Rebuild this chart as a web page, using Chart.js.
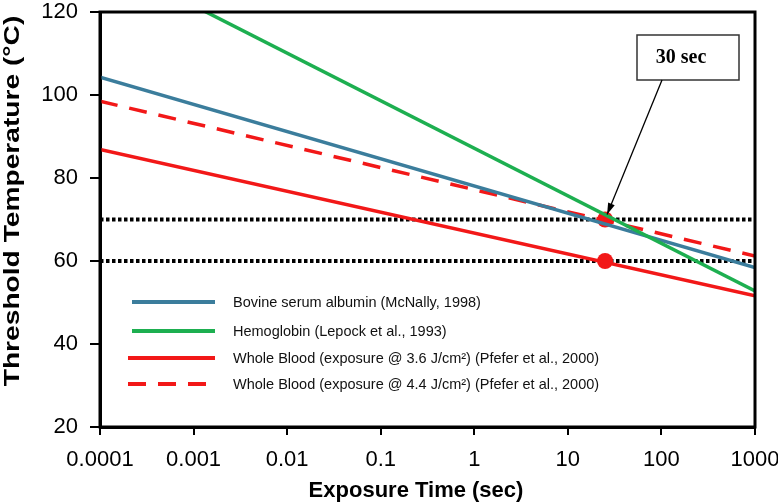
<!DOCTYPE html>
<html>
<head>
<meta charset="utf-8">
<script src="https://cdn.jsdelivr.net/npm/chart.js@4"></script>
<style>
  html, body { margin: 0; padding: 0; background: #fff; }
  #wrap { width: 778px; height: 503px; }
</style>
</head>
<body>
<div id="wrap"><canvas id="chart"></canvas></div>
<script>
// exposure range (sec) and threshold temperatures at both ends (°C)
const timeRange = [0.0001, 1000];
const bovine = [104.3, 58.4];
const hemoglobin = [133, 52.8];
const blood36 = [86.9, 51.6];
const blood44 = [98.5, 61.2];
const thresholds = [70, 60];
const markerTime = 25;
const xTicks = [0.0001, 0.001, 0.01, 0.1, 1, 10, 100, 1000];
const yTicks = [20, 40, 60, 80, 100, 120];

const toPts = (ys) => timeRange.map((t, i) => ({ x: t, y: ys[i] }));

const tickFont = { family: "'Liberation Sans', Arial, sans-serif", size: 22 };
const red = '#f21818';

const decorPlugin = {
    id: 'decor',
    afterDraw(chart) {
        const { ctx, chartArea: a, scales } = chart;
        ctx.save();
        ctx.strokeStyle = '#000';
        ctx.lineWidth = 3;
        ctx.strokeRect(a.left, a.top, a.right - a.left, a.bottom - a.top);

        // axis titles
        ctx.fillStyle = '#000';
        ctx.font = "bold 22px 'Liberation Sans', Arial, sans-serif";
        ctx.textAlign = 'center';
        ctx.textBaseline = 'alphabetic';
        ctx.fillText('Exposure Time (sec)', 416, 497);
        ctx.save();
        ctx.translate(19, 201);
        ctx.rotate(-Math.PI / 2);
        ctx.scale(1.28, 1);
        ctx.fillText('Threshold Temperature (\u00b0C)', 0, 0);
        ctx.restore();

        // legend inside the plot
        const rows = chart.data.datasets.filter(d => d.inLegend);
        const rowY = [302, 331, 358, 384];
        ctx.font = "14.5px 'Liberation Sans', Arial, sans-serif";
        ctx.textAlign = 'left';
        ctx.textBaseline = 'middle';
        rows.forEach((d, i) => {
            const y = rowY[i];
            ctx.beginPath();
            ctx.strokeStyle = d.borderColor;
            ctx.lineWidth = 4;
            ctx.setLineDash(d.borderDash || []);
            ctx.moveTo(d.borderColor === red ? 128 : 132, y);
            ctx.lineTo(215, y);
            ctx.stroke();
            ctx.setLineDash([]);
            ctx.fillStyle = '#111';
            ctx.fillText(d.label, 233, y + 1);
        });

        // "30 sec" callout
        const px = scales.x.getPixelForValue(markerTime);
        const py = scales.y.getPixelForValue(thresholds[0]);
        ctx.fillStyle = '#fff';
        ctx.fillRect(637, 35, 102, 45);
        ctx.strokeStyle = '#333';
        ctx.lineWidth = 1.5;
        ctx.strokeRect(637, 35, 102, 45);
        ctx.fillStyle = '#000';
        ctx.font = "bold 20px 'Liberation Serif', 'Times New Roman', serif";
        ctx.textAlign = 'center';
        ctx.fillText('30 sec', 681, 58);

        const x0 = 662, y0 = 80, x1 = px + 2, y1 = py - 5;
        const ang = Math.atan2(y1 - y0, x1 - x0);
        ctx.beginPath();
        ctx.strokeStyle = '#000';
        ctx.lineWidth = 1.3;
        ctx.moveTo(x0, y0);
        ctx.lineTo(x1, y1);
        ctx.stroke();
        ctx.beginPath();
        ctx.moveTo(x1, y1);
        ctx.lineTo(x1 - 12 * Math.cos(ang - 0.3), y1 - 12 * Math.sin(ang - 0.3));
        ctx.lineTo(x1 - 12 * Math.cos(ang + 0.3), y1 - 12 * Math.sin(ang + 0.3));
        ctx.closePath();
        ctx.fill();
        ctx.restore();
    }
};

new Chart(document.getElementById('chart'), {
    type: 'line',
    data: {
        datasets: [
            { label: 'Bovine serum albumin (McNally, 1998)', inLegend: true, order: 2, data: toPts(bovine), borderColor: '#3b7d9c', borderWidth: 3.5, pointRadius: 0 },
            { label: 'Hemoglobin (Lepock et al., 1993)', inLegend: true, order: 1, data: toPts(hemoglobin), borderColor: '#1daf50', borderWidth: 3.5, pointRadius: 0 },
            { label: 'Whole Blood (exposure @ 3.6 J/cm\u00b2) (Pfefer et al., 2000)', inLegend: true, order: 3, data: toPts(blood36), borderColor: red, borderWidth: 3.5, pointRadius: 0 },
            { label: 'Whole Blood (exposure @ 4.4 J/cm\u00b2) (Pfefer et al., 2000)', inLegend: true, order: 3, data: toPts(blood44), borderColor: red, borderWidth: 3.5, borderDash: [18, 12], pointRadius: 0 },
            { label: '30 sec points', order: 10, data: thresholds.map(v => ({ x: markerTime, y: v })), showLine: false, pointRadius: 8, pointBackgroundColor: red, pointBorderWidth: 0 },
            { label: 'ref 70', order: 20, data: toPts([thresholds[0], thresholds[0]]), borderColor: '#000', borderWidth: 4, borderDash: [3.5, 2.5], pointRadius: 0 },
            { label: 'ref 60', order: 20, data: toPts([thresholds[1], thresholds[1]]), borderColor: '#000', borderWidth: 4, borderDash: [3.5, 2.5], pointRadius: 0 }
        ]
    },
    options: {
        responsive: true,
        maintainAspectRatio: false,
        animation: false,
        layout: { padding: { top: 12, right: 23, left: 0, bottom: 0 } },
        plugins: { legend: { display: false }, tooltip: { enabled: false } },
        scales: {
            x: {
                type: 'logarithmic',
                min: timeRange[0],
                max: timeRange[1],
                afterBuildTicks: (s) => { s.ticks = xTicks.map(v => ({ value: v })); },
                afterFit: (s) => { s.height = 76; s.paddingLeft = 0; s.paddingRight = 0; },
                ticks: { color: '#000', font: tickFont, autoSkip: false, maxRotation: 0, padding: 12, callback: (v) => v.toString() },
                grid: { drawOnChartArea: false, color: '#000', lineWidth: 2, tickLength: 8 },
                border: { color: '#000', width: 3 }
            },
            y: {
                min: 20,
                max: 120,
                afterBuildTicks: (s) => { s.ticks = yTicks.map(v => ({ value: v })); },
                afterFit: (s) => { s.width = 100; s.paddingTop = 0; s.paddingBottom = 0; },
                ticks: { color: '#000', font: tickFont, padding: 12 },
                grid: { drawOnChartArea: false, color: '#000', lineWidth: 2, tickLength: 10 },
                border: { color: '#000', width: 3 }
            }
        }
    },
    plugins: [decorPlugin]
});
</script>
</body>
</html>
